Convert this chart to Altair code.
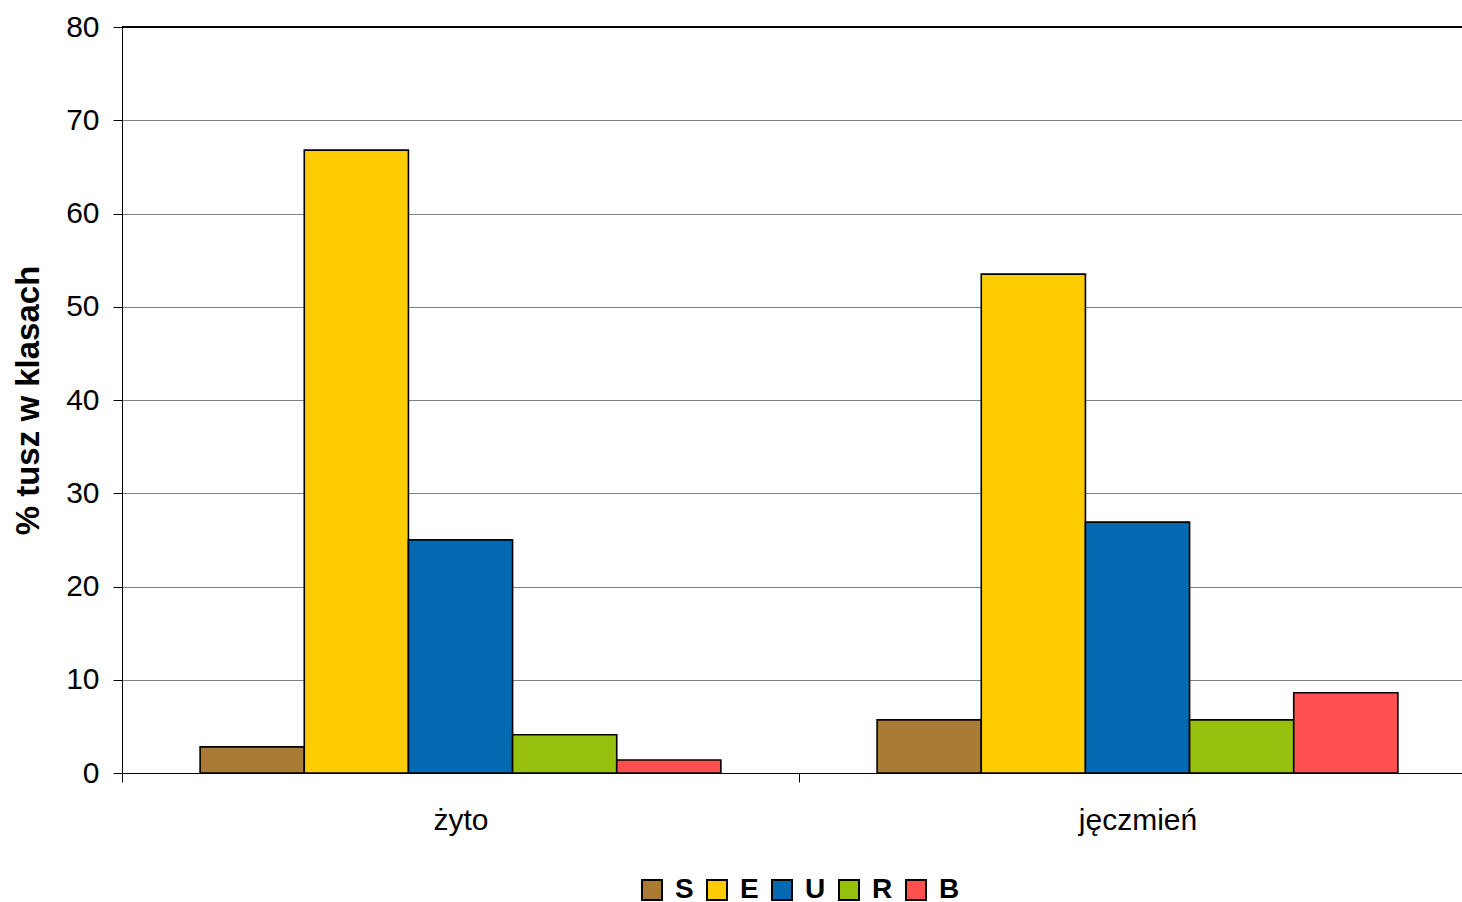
import altair as alt
import pandas as pd

# Share of carcasses in each class, by feed grain
crops = ["żyto", "jęczmień"]
classes = ["S", "E", "U", "R", "B"]
zyto = [2.8, 66.8, 25.0, 4.1, 1.4]
jeczmien = [5.7, 53.5, 26.9, 5.7, 8.6]
colors = ["#A97B35", "#FFCC00", "#0369B1", "#97C00E", "#FF5050"]

rows = []
for crop, vals in zip(crops, [zyto, jeczmien]):
    for cls, v in zip(classes, vals):
        rows.append({"zboze": crop, "klasa": cls, "procent": v})
df = pd.DataFrame(rows)

FONT = "Liberation Sans"

bars = alt.Chart(df).mark_bar(stroke="black", strokeWidth=1.6, opacity=1).encode(
    x=alt.X(
        "zboze:N",
        sort=crops,
        # the category axis runs a little past the right edge of the page
        scale=alt.Scale(range=[0, 1354], paddingInner=0, paddingOuter=0),
        axis=alt.Axis(
            title=None,
            labelAngle=0,
            labelFontSize=30,
            labelFont=FONT,
            labelColor="black",
            labelPadding=23,
            tickBand="extent",
            tickSize=9,
            tickColor="black",
            domainColor="black",
            grid=False,
        ),
    ),
    xOffset=alt.XOffset(
        "klasa:N",
        sort=classes,
        scale=alt.Scale(paddingInner=0, paddingOuter=0.75),
    ),
    y=alt.Y(
        "procent:Q",
        scale=alt.Scale(domain=[0, 80], nice=False),
        axis=alt.Axis(
            title="% tusz w klasach",
            titleFontSize=33,
            titleFont=FONT,
            titleFontWeight="bold",
            titleColor="black",
            titlePadding=20,
            values=list(range(0, 81, 10)),
            labelFontSize=30,
            labelFont=FONT,
            labelColor="black",
            labelPadding=14,
            tickSize=9,
            tickColor="black",
            domainColor="black",
            gridColor="#808080",
            gridWidth=1,
        ),
    ),
    color=alt.Color(
        "klasa:N",
        sort=classes,
        scale=alt.Scale(domain=classes, range=colors),
        legend=alt.Legend(
            title=None,
            orient="none",
            direction="horizontal",
            legendX=516,
            legendY=849,
            symbolType="square",
            symbolSize=400,
            symbolStrokeColor="black",
            symbolStrokeWidth=2,
            symbolOpacity=1,
            labelFontSize=28,
            labelFont=FONT,
            labelFontWeight="bold",
            labelColor="black",
            labelOffset=9,
            columnPadding=9,
        ),
    ),
)

top_line = alt.Chart(df).mark_rule(color="black", strokeWidth=1).encode(
    y=alt.datum(80)
)

chart = (
    alt.layer(bars, top_line)
    .properties(
        width=1340,
        height=746,
        autosize=alt.AutoSizeParams(type="none"),
        padding={"left": 122, "top": 27, "right": 0, "bottom": 129},
    )
    .configure_view(stroke=None)
    .configure(background="white")
)

chart.save("out.html", embed_options={"renderer": "svg", "actions": False})
